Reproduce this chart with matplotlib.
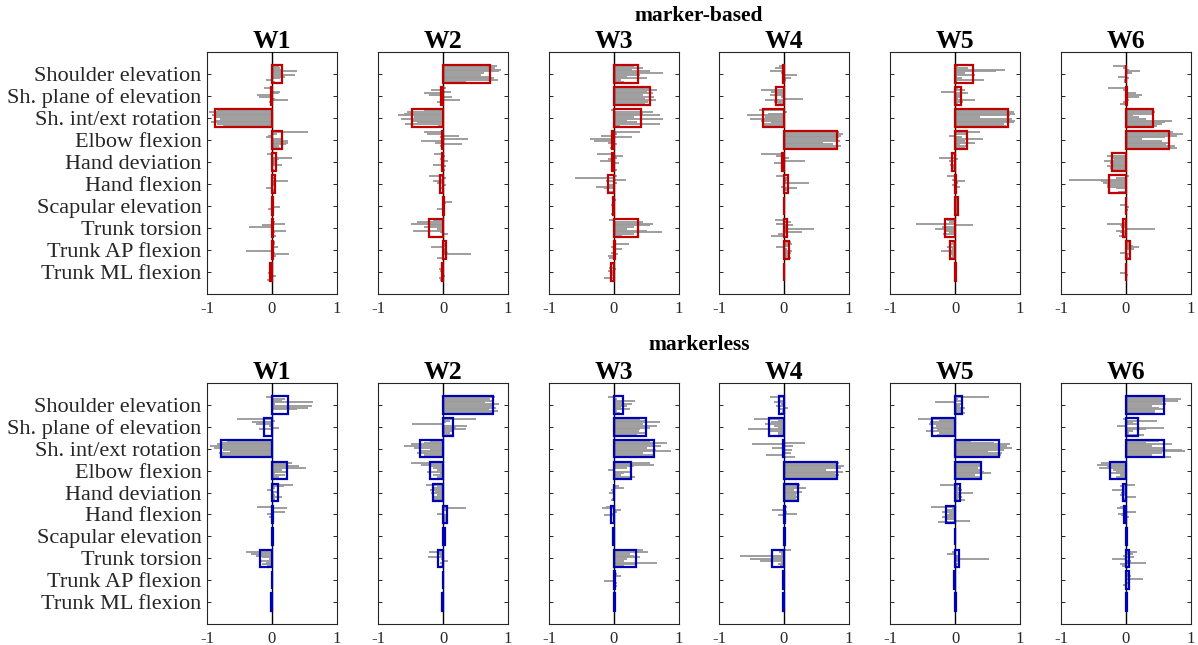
import numpy as np
import matplotlib
matplotlib.use("Agg")
import matplotlib.pyplot as plt

plt.rcParams['font.family'] = ['Liberation Serif', 'DejaVu Serif']

joints = ["Shoulder elevation", "Sh. plane of elevation", "Sh. int/ext rotation",
          "Elbow flexion", "Hand deviation", "Hand flexion", "Scapular elevation",
          "Trunk torsion", "Trunk AP flexion", "Trunk ML flexion"]
tasks = ["W1", "W2", "W3", "W4", "W5", "W6"]
xtick_vals = [-1, 0, 1]
xtick_text = ["-1", "0", "1"]

# ---- marker-based: mean correlation per joint (boxes) ----
mb_mean_W1 = [0.16, -0.02, -0.87, 0.16, 0.06, 0.04, 0.01, 0.01, 0.02, -0.03]
mb_mean_W2 = [0.73, -0.03, -0.48, -0.02, -0.02, -0.05, 0.02, -0.21, 0.04, -0.02]
mb_mean_W3 = [0.37, 0.55, 0.41, -0.03, -0.03, -0.10, -0.01, 0.37, 0.02, -0.04]
mb_mean_W4 = [-0.02, -0.12, -0.32, 0.82, -0.03, 0.06, 0.00, 0.05, 0.07, 0.00]
mb_mean_W5 = [0.27, 0.09, 0.81, 0.19, -0.05, 0.01, 0.04, -0.15, -0.08, 0.02]
mb_mean_W6 = [0.00, 0.02, 0.42, 0.66, -0.22, -0.26, 0.00, -0.05, 0.06, 0.00]

# ---- markerless: mean correlation per joint (boxes) ----
ml_mean_W1 = [0.25, -0.12, -0.79, 0.23, 0.09, 0.01, 0.02, -0.18, 0.00, -0.01]
ml_mean_W2 = [0.77, 0.15, -0.36, -0.20, -0.15, 0.06, 0.03, -0.07, 0.00, -0.01]
ml_mean_W3 = [0.14, 0.49, 0.62, 0.26, 0.00, -0.04, -0.01, 0.34, 0.02, 0.02]
ml_mean_W4 = [-0.07, -0.23, -0.01, 0.82, 0.22, 0.01, 0.01, -0.18, -0.01, -0.01]
ml_mean_W5 = [0.11, -0.35, 0.67, 0.40, 0.07, -0.14, 0.00, 0.06, -0.02, 0.02]
ml_mean_W6 = [0.58, 0.19, 0.59, -0.25, -0.04, -0.03, 0.02, 0.04, 0.04, 0.01]

# ---- individual subjects (rows: joints, columns: subjects) ----
mb_subj_W1 = [
    [0.10, 0.12, 0.15, 0.39, 0.16, 0.35, 0.20, 0.12, -0.09, 0.05],
    [-0.13, 0.02, 0.12, 0.10, -0.23, -0.20, 0.05, 0.25, -0.05, 0.00],
    [-0.85, -0.97, -0.88, -0.92, -0.86, -0.80, -0.90, -0.94, -0.85, -0.75],
    [0.56, 0.08, -0.06, -0.10, 0.15, 0.25, 0.24, 0.22, 0.10, 0.12],
    [-0.08, 0.02, 0.31, 0.10, 0.05, 0.04, 0.15, 0.00, -0.02, 0.03],
    [0.02, 0.04, 0.00, 0.25, 0.05, 0.03, -0.02, -0.10, 0.06, 0.04],
    [0.00, 0.02, -0.02, 0.00, 0.00, 0.12, -0.06, 0.03, 0.00, 0.01],
    [-0.02, 0.05, 0.20, -0.15, -0.36, 0.02, 0.22, 0.05, 0.03, 0.06],
    [0.04, 0.05, 0.00, 0.09, 0.03, -0.40, 0.04, 0.26, 0.06, 0.03],
    [-0.03, -0.02, -0.05, -0.01, -0.04, -0.06, -0.03, 0.06, -0.05, -0.07],
]
mb_subj_W2 = [
    [0.83, 0.80, 0.89, 0.86, 0.63, 0.58, 0.72, 0.78, 0.85, 0.36],
    [0.05, -0.19, 0.12, -0.29, -0.22, 0.14, -0.05, 0.26, -0.10, 0.00],
    [-0.30, -0.55, -0.60, -0.70, -0.45, -0.65, -0.50, -0.40, -0.58, -0.07],
    [-0.29, -0.25, 0.25, -0.05, 0.38, -0.34, -0.12, 0.29, -0.05, -0.02],
    [-0.14, 0.03, 0.02, -0.05, 0.07, -0.02, -0.16, 0.05, -0.03, 0.03],
    [-0.22, 0.04, -0.03, -0.16, -0.10, 0.05, -0.02, -0.05, 0.00, -0.01],
    [0.00, 0.03, 0.14, 0.05, 0.00, 0.02, -0.09, 0.03, 0.02, 0.00],
    [-0.15, -0.40, -0.49, -0.20, -0.30, -0.10, -0.46, -0.05, 0.07, -0.02],
    [0.02, 0.05, 0.03, -0.19, 0.06, 0.03, 0.07, 0.43, 0.00, -0.10],
    [0.00, -0.03, 0.02, -0.06, -0.05, 0.01, -0.02, 0.03, -0.06, -0.04],
]
mb_subj_W3 = [
    [0.30, 0.45, 0.28, 0.55, 0.76, 0.40, 0.20, 0.50, 0.10, 0.16],
    [0.55, 0.66, 0.50, 0.60, 0.45, 0.62, 0.48, 0.64, 0.52, 0.48],
    [-0.05, 0.60, 0.45, 0.70, 0.30, 0.76, 0.20, 0.35, 0.70, 0.09],
    [0.40, 0.05, -0.20, 0.27, -0.37, -0.31, -0.10, 0.05, -0.03, -0.06],
    [-0.26, 0.14, 0.05, -0.10, -0.21, 0.08, -0.05, 0.02, -0.02, 0.05],
    [0.05, -0.60, 0.18, -0.12, 0.04, -0.07, -0.28, -0.15, 0.02, -0.07],
    [0.00, 0.03, -0.02, 0.00, -0.04, 0.02, -0.03, 0.00, -0.02, -0.04],
    [-0.07, 0.45, 0.60, 0.55, 0.30, 0.20, 0.50, 0.74, 0.30, 0.13],
    [0.02, 0.23, 0.00, -0.05, 0.12, 0.03, -0.04, 0.06, -0.10, -0.07],
    [-0.05, 0.02, -0.08, 0.03, -0.10, -0.04, -0.03, 0.01, -0.15, -0.01],
]
mb_subj_W4 = [
    [-0.08, -0.14, -0.03, -0.22, -0.05, 0.20, -0.01, 0.10, 0.03, 0.00],
    [0.02, -0.36, -0.20, -0.12, -0.22, -0.05, 0.29, -0.30, -0.16, -0.10],
    [-0.38, 0.04, -0.25, -0.57, -0.30, -0.53, -0.35, -0.20, -0.33, -0.33],
    [0.85, 0.91, 0.88, 0.84, 0.80, 0.86, 0.60, 0.75, 0.88, 0.83],
    [-0.35, -0.12, 0.08, -0.05, 0.33, -0.16, 0.02, -0.03, -0.02, 0.00],
    [-0.12, 0.05, 0.06, 0.03, 0.39, 0.00, -0.05, 0.20, 0.04, 0.00],
    [0.00, 0.01, -0.01, 0.00, 0.01, 0.00, -0.01, 0.00, 0.01, 0.00],
    [-0.14, 0.10, -0.12, 0.14, 0.05, 0.46, 0.04, 0.27, -0.10, -0.20],
    [0.10, 0.12, 0.08, -0.12, 0.05, 0.12, 0.10, 0.06, 0.09, 0.10],
    [0.00, 0.01, 0.00, -0.01, 0.00, 0.01, 0.00, 0.00, -0.01, 0.00],
]
mb_subj_W5 = [
    [0.05, 0.20, 0.77, 0.63, 0.15, 0.30, 0.03, 0.10, 0.44, 0.03],
    [0.05, 0.15, -0.21, 0.20, 0.08, 0.10, 0.05, 0.31, 0.12, 0.05],
    [0.80, 0.90, 0.93, 0.85, 0.39, 0.88, 0.92, 0.90, 0.75, 0.78],
    [0.39, 0.20, -0.10, 0.10, 0.43, 0.15, 0.30, 0.08, 0.20, 0.15],
    [-0.05, -0.02, -0.24, 0.05, -0.10, 0.02, -0.08, -0.03, -0.05, 0.00],
    [-0.13, 0.02, -0.05, 0.16, 0.05, -0.04, 0.08, -0.02, 0.03, 0.00],
    [0.04, 0.05, 0.03, 0.04, 0.05, 0.04, 0.03, 0.05, 0.04, 0.03],
    [-0.13, -0.10, -0.60, 0.27, -0.20, -0.31, -0.15, -0.10, -0.18, 0.00],
    [-0.05, -0.08, -0.03, -0.12, -0.05, -0.21, -0.10, -0.06, -0.04, -0.06],
    [0.02, 0.01, 0.03, 0.02, 0.01, 0.02, 0.03, 0.02, 0.02, 0.02],
]
mb_subj_W6 = [
    [-0.20, -0.05, 0.05, 0.22, 0.09, 0.02, -0.12, 0.05, -0.03, -0.03],
    [-0.27, -0.05, 0.02, 0.15, 0.25, 0.20, 0.00, 0.05, -0.05, -0.10],
    [0.40, 0.45, 0.42, 0.10, 0.20, 0.30, 0.71, 0.60, 0.55, 0.47],
    [0.72, 0.87, 0.78, 0.60, 0.25, 0.55, 0.68, 0.62, 0.75, 0.78],
    [0.02, -0.29, -0.20, -0.18, -0.34, -0.25, -0.22, -0.29, -0.25, -0.20],
    [0.04, -0.15, -0.88, -0.39, -0.35, -0.30, -0.30, -0.15, 0.00, -0.12],
    [0.00, 0.02, -0.02, 0.00, -0.10, 0.05, 0.00, 0.03, 0.01, 0.01],
    [-0.02, -0.04, -0.29, -0.10, -0.08, 0.44, -0.15, -0.10, -0.05, -0.11],
    [0.05, 0.08, 0.10, 0.20, 0.12, 0.02, -0.10, 0.06, 0.03, 0.04],
    [0.00, 0.01, -0.01, 0.00, 0.02, -0.10, 0.03, 0.02, 0.01, 0.02],
]

ml_subj_W1 = [
    [-0.10, 0.20, 0.15, 0.63, 0.05, 0.61, 0.55, 0.39, 0.02, 0.00],
    [-0.54, 0.05, -0.31, -0.25, -0.05, 0.10, -0.20, -0.02, 0.00, 0.02],
    [-0.70, -0.80, -0.85, -0.95, -0.90, -0.75, -0.65, -0.82, -0.78, -0.70],
    [0.30, 0.22, 0.41, 0.52, 0.15, 0.25, 0.05, 0.20, 0.10, 0.10],
    [0.32, 0.18, 0.05, -0.08, 0.10, 0.03, 0.05, 0.15, 0.05, 0.05],
    [-0.23, 0.23, 0.02, 0.20, -0.08, 0.00, -0.05, 0.01, 0.00, 0.00],
    [0.02, 0.03, 0.01, 0.02, 0.02, 0.03, 0.01, 0.02, 0.02, 0.02],
    [-0.10, -0.40, -0.33, -0.25, -0.15, -0.05, -0.20, -0.10, -0.15, -0.07],
    [0.00, 0.01, -0.01, 0.00, 0.01, -0.01, 0.00, 0.00, 0.01, -0.01],
    [-0.01, -0.02, 0.00, -0.01, -0.02, -0.01, 0.00, -0.01, -0.01, -0.01],
]
ml_subj_W2 = [
    [0.80, 0.72, 0.78, 0.65, 0.86, 0.75, 0.82, 0.70, 0.84, 0.78],
    [0.50, 0.10, 0.05, -0.47, 0.37, 0.20, 0.35, 0.15, 0.10, 0.15],
    [-0.20, -0.30, -0.50, -0.60, -0.45, -0.20, -0.35, -0.40, -0.30, -0.30],
    [-0.50, -0.34, -0.20, -0.15, -0.10, -0.25, -0.05, -0.15, -0.10, -0.16],
    [-0.26, -0.10, -0.15, -0.20, -0.12, -0.18, -0.10, -0.15, -0.14, -0.10],
    [0.05, 0.35, 0.05, 0.02, -0.09, 0.04, 0.06, 0.05, 0.04, 0.03],
    [0.03, 0.02, 0.04, 0.03, 0.03, 0.02, 0.04, 0.03, 0.03, 0.03],
    [-0.05, -0.22, -0.10, -0.05, -0.23, -0.03, 0.08, -0.05, -0.02, -0.03],
    [0.00, 0.01, -0.01, 0.00, 0.01, 0.00, -0.01, 0.00, 0.00, 0.00],
    [-0.01, -0.01, 0.00, -0.02, -0.01, -0.01, 0.00, -0.01, -0.02, -0.01],
]
ml_subj_W3 = [
    [-0.10, 0.05, 0.33, 0.15, 0.28, 0.20, 0.10, 0.25, 0.05, 0.09],
    [0.40, 0.50, 0.70, 0.45, 0.66, 0.55, 0.40, 0.38, 0.50, 0.36],
    [0.55, 0.82, 0.60, 0.72, 0.50, 0.65, 0.87, 0.45, 0.60, 0.44],
    [0.56, 0.62, 0.30, 0.20, -0.10, 0.25, 0.15, 0.10, 0.32, 0.20],
    [0.02, 0.08, 0.15, -0.05, -0.03, -0.08, 0.00, -0.02, -0.03, -0.04],
    [-0.12, -0.19, 0.10, 0.05, -0.05, -0.16, -0.02, 0.00, -0.01, 0.00],
    [-0.01, -0.01, -0.02, 0.00, -0.01, -0.01, -0.02, 0.00, -0.01, -0.01],
    [0.45, 0.52, 0.25, 0.30, 0.40, 0.20, 0.15, 0.66, 0.32, 0.15],
    [0.02, 0.05, 0.10, 0.03, 0.02, -0.16, 0.04, 0.03, 0.04, 0.03],
    [0.02, 0.01, 0.03, 0.02, 0.02, 0.03, 0.01, 0.02, 0.02, 0.02],
]
ml_subj_W4 = [
    [-0.21, 0.02, -0.08, -0.15, -0.05, -0.12, 0.06, -0.10, -0.03, -0.04],
    [-0.46, -0.10, -0.20, -0.30, -0.15, -0.10, -0.55, -0.25, -0.10, -0.09],
    [0.02, 0.33, -0.50, 0.14, -0.18, 0.12, -0.02, 0.10, -0.28, 0.17],
    [0.85, 0.80, 0.93, 0.88, 0.65, 0.90, 0.78, 0.85, 0.80, 0.76],
    [0.25, 0.20, 0.34, 0.15, 0.28, 0.20, 0.18, 0.22, 0.18, 0.20],
    [0.05, 0.02, -0.19, 0.04, 0.20, -0.10, 0.03, 0.02, 0.00, 0.03],
    [0.01, 0.01, 0.02, 0.01, 0.00, 0.01, 0.01, 0.02, 0.01, 0.00],
    [0.11, -0.08, -0.05, -0.68, -0.20, -0.52, -0.37, -0.05, -0.10, -0.06],
    [-0.01, 0.00, -0.02, -0.01, -0.01, 0.00, -0.02, -0.01, -0.01, -0.01],
    [-0.01, -0.01, 0.00, -0.02, -0.01, -0.01, 0.00, -0.01, -0.02, -0.01],
]
ml_subj_W5 = [
    [0.52, 0.05, 0.10, -0.31, 0.13, 0.08, 0.15, 0.12, 0.10, 0.16],
    [-0.57, -0.25, -0.38, -0.40, -0.30, -0.35, -0.28, -0.45, -0.25, -0.27],
    [0.24, 0.60, 0.85, 0.80, 0.87, 0.75, 0.50, 0.72, 0.70, 0.67],
    [0.40, 0.38, 0.42, 0.35, 0.40, 0.45, 0.56, 0.30, 0.38, 0.36],
    [-0.23, 0.05, 0.08, 0.10, 0.05, 0.28, 0.06, 0.10, 0.05, 0.16],
    [-0.37, -0.05, -0.15, -0.20, -0.10, -0.15, -0.20, -0.15, 0.23, -0.26],
    [0.00, 0.01, -0.01, 0.00, 0.01, 0.00, -0.01, 0.00, 0.00, 0.00],
    [0.03, -0.05, -0.13, 0.05, 0.08, 0.52, 0.04, -0.02, 0.05, 0.03],
    [-0.02, -0.03, -0.01, -0.02, -0.02, -0.03, -0.01, -0.02, -0.02, -0.02],
    [0.02, 0.01, 0.03, 0.02, 0.02, 0.03, 0.01, 0.02, 0.02, 0.02],
]
ml_subj_W6 = [
    [0.60, 0.85, 0.80, 0.55, 0.62, 0.40, 0.50, 0.58, 0.45, 0.45],
    [-0.05, 0.48, 0.10, 0.20, -0.14, 0.58, 0.30, 0.10, 0.05, 0.28],
    [0.50, 0.30, 0.70, 0.40, 0.60, 0.86, 0.90, 0.55, 0.40, 0.69],
    [-0.38, -0.45, -0.30, -0.42, -0.20, -0.15, -0.25, -0.10, -0.15, -0.10],
    [0.14, -0.10, -0.05, -0.21, -0.04, -0.08, -0.10, 0.15, -0.06, -0.05],
    [-0.10, -0.14, -0.05, 0.15, -0.12, -0.08, 0.05, -0.03, 0.00, 0.02],
    [0.02, 0.03, 0.01, 0.02, 0.02, 0.03, 0.01, 0.02, 0.02, 0.02],
    [0.05, 0.17, 0.10, -0.05, 0.12, -0.22, 0.08, 0.31, -0.10, -0.06],
    [0.02, 0.05, 0.08, 0.02, 0.26, 0.00, 0.03, -0.04, 0.00, -0.02],
    [0.01, 0.02, 0.00, 0.01, 0.02, 0.01, 0.00, 0.01, 0.02, 0.00],
]

mb_means = [mb_mean_W1, mb_mean_W2, mb_mean_W3, mb_mean_W4, mb_mean_W5, mb_mean_W6]
ml_means = [ml_mean_W1, ml_mean_W2, ml_mean_W3, ml_mean_W4, ml_mean_W5, ml_mean_W6]
mb_subjs = [mb_subj_W1, mb_subj_W2, mb_subj_W3, mb_subj_W4, mb_subj_W5, mb_subj_W6]
ml_subjs = [ml_subj_W1, ml_subj_W2, ml_subj_W3, ml_subj_W4, ml_subj_W5, ml_subj_W6]

RED = "#C00000"
BLUE = "#0000B4"
GRAY = "#9A9A9A"
AXCOL = "#262626"

W, H = 1198, 645
fig = plt.figure(figsize=(W / 100, H / 100), dpi=100)

col_left = [207, 378, 549, 719, 890, 1061]
ax_w = 130
rows = [(52, 294), (383, 624)]
group_titles = ["marker-based", "markerless"]
group_title_y = [16, 345]
bar_h = 0.8


def draw_panel(ax, means, subjects, edge, show_labels):
    ypos = np.arange(1, len(joints) + 1)
    subj = np.asarray(subjects)
    n = subj.shape[1]
    slot = bar_h / n
    offs = (np.arange(n) - (n - 1) / 2) * slot
    for i, y in enumerate(ypos):
        ax.hlines(y + offs, 0, subj[i], colors=GRAY, linewidth=1.35, zorder=2)
    ax.axvline(0, color="black", linewidth=1.0, zorder=3)
    ax.barh(ypos, means, height=bar_h, fill=False, edgecolor=edge,
            linewidth=1.6, zorder=4)
    ax.set_xlim(-1, 1)
    ax.set_ylim(len(joints) + 1, 0)
    ax.set_xticks(xtick_vals)
    ax.set_xticklabels(xtick_text, fontsize=12, color=AXCOL)
    ax.set_yticks(ypos)
    if show_labels:
        ax.set_yticklabels(joints, fontsize=16, color=AXCOL)
    else:
        ax.set_yticklabels([])
    ax.tick_params(axis="both", direction="in", length=3, width=0.7,
                   colors=AXCOL, right=True, top=True)
    ax.tick_params(axis="x", pad=5)
    ax.tick_params(axis="y", pad=4)
    for sp in ax.spines.values():
        sp.set_color(AXCOL)
        sp.set_linewidth(0.8)


for r, (top, bottom) in enumerate(rows):
    means_set = mb_means if r == 0 else ml_means
    subj_set = mb_subjs if r == 0 else ml_subjs
    edge = RED if r == 0 else BLUE
    for c, left in enumerate(col_left):
        ax = fig.add_axes([left / W, 1 - bottom / H, ax_w / W, (bottom - top) / H])
        draw_panel(ax, means_set[c], subj_set[c], edge, c == 0)
        ax.set_title(tasks[c], fontsize=18.5, fontweight="bold", pad=3)
    fig.text((col_left[0] + col_left[-1] + ax_w) / 2 / W, 1 - group_title_y[r] / H,
             group_titles[r], ha="center", va="center", fontsize=15.5,
             fontweight="bold")

fig.savefig("out.png", dpi=100)
